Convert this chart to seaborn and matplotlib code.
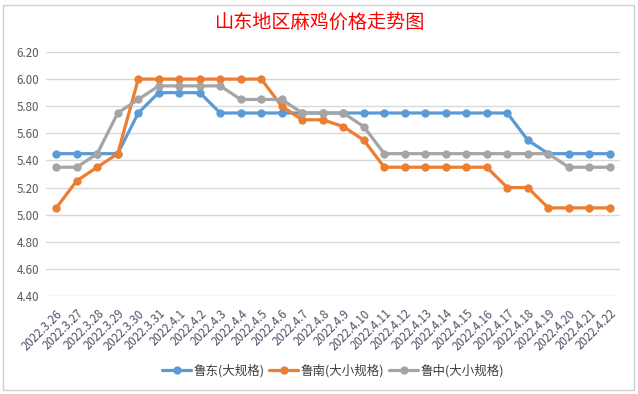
import matplotlib
matplotlib.use('Agg')
import matplotlib.pyplot as plt
import pandas as pd
import seaborn as sns
from matplotlib.patches import Rectangle

dates = ['2022.3.26', '2022.3.27', '2022.3.28', '2022.3.29', '2022.3.30', '2022.3.31',
         '2022.4.1', '2022.4.2', '2022.4.3', '2022.4.4', '2022.4.5', '2022.4.6', '2022.4.7',
         '2022.4.8', '2022.4.9', '2022.4.10', '2022.4.11', '2022.4.12', '2022.4.13',
         '2022.4.14', '2022.4.15', '2022.4.16', '2022.4.17', '2022.4.18', '2022.4.19',
         '2022.4.20', '2022.4.21', '2022.4.22']
ludong = [5.45, 5.45, 5.45, 5.45, 5.75, 5.90, 5.90, 5.90, 5.75, 5.75, 5.75, 5.75, 5.75,
          5.75, 5.75, 5.75, 5.75, 5.75, 5.75, 5.75, 5.75, 5.75, 5.75, 5.55, 5.45, 5.45,
          5.45, 5.45]
lunan = [5.05, 5.25, 5.35, 5.45, 6.00, 6.00, 6.00, 6.00, 6.00, 6.00, 6.00, 5.80, 5.70,
         5.70, 5.65, 5.55, 5.35, 5.35, 5.35, 5.35, 5.35, 5.35, 5.20, 5.20, 5.05, 5.05,
         5.05, 5.05]
luzhong = [5.35, 5.35, 5.45, 5.75, 5.85, 5.95, 5.95, 5.95, 5.95, 5.85, 5.85, 5.85, 5.75,
           5.75, 5.75, 5.65, 5.45, 5.45, 5.45, 5.45, 5.45, 5.45, 5.45, 5.45, 5.45, 5.35,
           5.35, 5.35]
series_names = ['鲁东(大规格)', '鲁南(大小规格)', '鲁中(大小规格)']
colors = ['#5B9BD5', '#ED7D31', '#A5A5A5']

rows = []
for name, vals in zip(series_names, [ludong, lunan, luzhong]):
    for i, v in enumerate(vals):
        rows.append({'idx': i, 'price': v, 'series': name})
df = pd.DataFrame(rows)

sns.set_style('white')
plt.rcParams['font.family'] = ['Noto Sans CJK SC', 'DejaVu Sans']

fig = plt.figure(figsize=(6.38, 3.94), dpi=100)
ax = fig.add_axes([46 / 638, 1 - 296 / 394, (620 - 46) / 638, (296 - 52) / 394])

sns.lineplot(data=df, x='idx', y='price', hue='series', palette=colors,
             marker='o', markersize=6, markeredgewidth=0, linewidth=2.3, ax=ax,
             legend=True)

ax.set_xlim(-0.5, len(dates) - 0.5)
ax.set_ylim(4.40, 6.20)
yt = [4.40 + 0.2 * i for i in range(10)]
ax.set_yticks(yt)
ax.set_yticklabels([f'{v:.2f}' for v in yt], fontsize=8.3, color='#595959')
ax.set_xticks(range(len(dates)))
ax.set_xticklabels(dates, rotation=45, ha='right', rotation_mode='anchor',
                   fontsize=8.3, color='#505068')
ax.tick_params(axis='y', length=0, pad=5)
ax.tick_params(axis='x', length=0, pad=8)
ax.grid(axis='y', color='#D9D9D9', linewidth=1)
ax.set_axisbelow(True)
for s in ax.spines.values():
    s.set_visible(False)
ax.set_xlabel('')
ax.set_ylabel('')

leg = ax.legend(loc='center', bbox_to_anchor=(0.5, -75 / 244), ncol=3, frameon=False,
                fontsize=9, handlelength=2.3, columnspacing=0.4, handletextpad=0.2)
for t in leg.get_texts():
    t.set_color('#404040')

fig.text(320 / 638, 1 - 22 / 394, '山东地区麻鸡价格走势图', color='red',
         fontsize=13.8, ha='center', va='center')

fig.patches.append(Rectangle((3 / 638, 1 - 390 / 394), 631 / 638, 385 / 394,
                             transform=fig.transFigure, fill=False,
                             edgecolor='#D0D0D0', linewidth=1))

fig.savefig('out.png', dpi=100)
